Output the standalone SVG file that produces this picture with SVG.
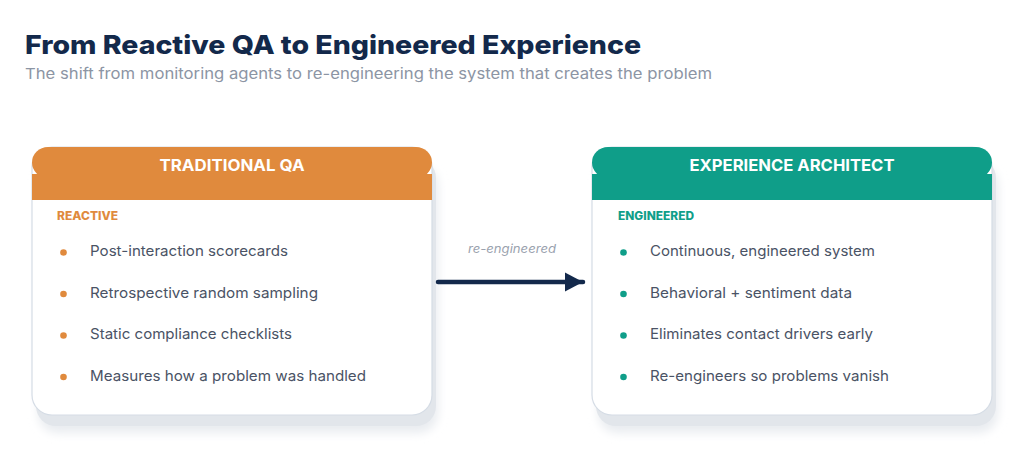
<svg xmlns="http://www.w3.org/2000/svg" width="1024" height="474" viewBox="0 0 1024 474">
  <defs>
    <filter id="blur" x="-10%" y="-10%" width="120%" height="130%">
      <feGaussianBlur stdDeviation="5"/>
    </filter>
    <marker id="arrow" viewBox="0 0 20 20" refX="19" refY="10" markerWidth="20" markerHeight="20" markerUnits="userSpaceOnUse" orient="auto">
      <path d="M1,0.5 L19,10 L1,19.5 Z" fill="#13294b"/>
    </marker>
    <style>
      .title { font-family: Inter, "Liberation Sans", sans-serif; font-weight: 800; font-size: 26px; fill: #13294b; }
      .subtitle { font-family: Inter, "Liberation Sans", sans-serif; font-weight: 400; font-size: 15px; fill: #8c95a4; }
      .head { font-family: Inter, "Liberation Sans", sans-serif; font-weight: 700; font-size: 16px; fill: #ffffff; }
      .tag { font-family: Inter, "Liberation Sans", sans-serif; font-weight: 800; font-size: 11.5px; }
      .item { font-family: Inter, "Liberation Sans", sans-serif; font-weight: 400; font-size: 14.5px; fill: #4a5365; }
      .card { fill: #ffffff; stroke: #d5dce5; stroke-width: 1.2; }
      .shadow { fill: #e2e6eb; }
      .soft { fill: #e9ecf0; filter: url(#blur); }
      .orange { fill: #e08a3d; }
      .teal { fill: #0f9e89; }
      .label { font-family: Inter, "Liberation Sans", sans-serif; font-style: italic; font-size: 12px; fill: #9aa2ae; }
    </style>
  </defs>

  <rect width="1024" height="474" fill="#ffffff"/>

  <g id="heading">
    <text class="title" x="25" y="54" textLength="616" lengthAdjust="spacingAndGlyphs">From Reactive QA to Engineered Experience</text>
    <text class="subtitle" x="25" y="79" textLength="687" lengthAdjust="spacingAndGlyphs">The shift from monitoring agents to re-engineering the system that creates the problem</text>
  </g>

  <g id="traditional-qa">
    <rect class="soft" x="38" y="165" width="400" height="268" rx="20"/>
    <rect class="shadow" x="36" y="158" width="400" height="268" rx="20"/>
    <rect class="card" x="32" y="147" width="400" height="268" rx="20"/>
    <rect class="orange" x="32" y="147" width="400" height="31" rx="16"/>
    <rect class="orange" x="32" y="174" width="400" height="26"/>
    <text class="head" x="232" y="171" text-anchor="middle" textLength="145" lengthAdjust="spacingAndGlyphs">TRADITIONAL QA</text>
    <text class="tag orange" x="57" y="220" textLength="61" lengthAdjust="spacingAndGlyphs">REACTIVE</text>
    <circle class="orange" cx="63.5" cy="252.5" r="3.3"/>
    <text class="item" x="90" y="256" textLength="198" lengthAdjust="spacingAndGlyphs">Post-interaction scorecards</text>
    <circle class="orange" cx="63.5" cy="294" r="3.3"/>
    <text class="item" x="90" y="297.5" textLength="228" lengthAdjust="spacingAndGlyphs">Retrospective random sampling</text>
    <circle class="orange" cx="63.5" cy="335.5" r="3.3"/>
    <text class="item" x="90" y="339" textLength="202" lengthAdjust="spacingAndGlyphs">Static compliance checklists</text>
    <circle class="orange" cx="63.5" cy="377" r="3.3"/>
    <text class="item" x="90" y="380.5" textLength="276" lengthAdjust="spacingAndGlyphs">Measures how a problem was handled</text>
  </g>

  <g id="experience-architect">
    <rect class="soft" x="598" y="165" width="400" height="268" rx="20"/>
    <rect class="shadow" x="596" y="158" width="400" height="268" rx="20"/>
    <rect class="card" x="592" y="147" width="400" height="268" rx="20"/>
    <rect class="teal" x="592" y="147" width="400" height="31" rx="16"/>
    <rect class="teal" x="592" y="174" width="400" height="26"/>
    <text class="head" x="792" y="171" text-anchor="middle" textLength="205" lengthAdjust="spacingAndGlyphs">EXPERIENCE ARCHITECT</text>
    <text class="tag teal" x="618" y="220" textLength="76" lengthAdjust="spacingAndGlyphs">ENGINEERED</text>
    <circle class="teal" cx="623.5" cy="252.5" r="3.3"/>
    <text class="item" x="650" y="256" textLength="225" lengthAdjust="spacingAndGlyphs">Continuous, engineered system</text>
    <circle class="teal" cx="623.5" cy="294" r="3.3"/>
    <text class="item" x="650" y="297.5" textLength="202" lengthAdjust="spacingAndGlyphs">Behavioral + sentiment data</text>
    <circle class="teal" cx="623.5" cy="335.5" r="3.3"/>
    <text class="item" x="650" y="339" textLength="223" lengthAdjust="spacingAndGlyphs">Eliminates contact drivers early</text>
    <circle class="teal" cx="623.5" cy="377" r="3.3"/>
    <text class="item" x="650" y="380.5" textLength="239" lengthAdjust="spacingAndGlyphs">Re-engineers so problems vanish</text>
  </g>

  <g id="connectors">
    <line x1="438" y1="282" x2="583" y2="282" stroke="#13294b" stroke-width="4.5" stroke-linecap="round" marker-end="url(#arrow)"/>
    <text class="label" x="512" y="253" text-anchor="middle" textLength="88" lengthAdjust="spacingAndGlyphs">re-engineered</text>
  </g>
</svg>
